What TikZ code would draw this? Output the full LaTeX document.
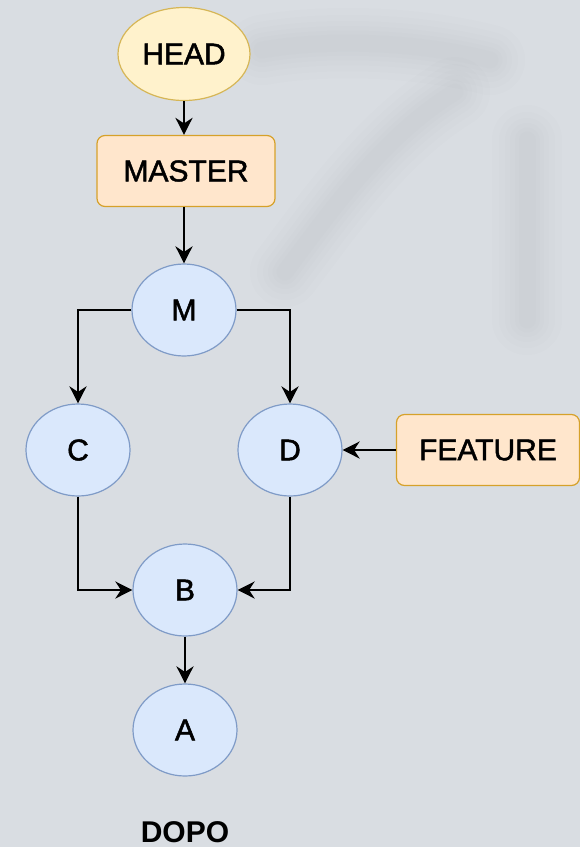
\documentclass[tikz,border=0pt]{standalone}
\usepackage{fontspec}
\setmainfont{Liberation Sans}
\newfontfamily\labelfont[FakeBold=1.6]{Liberation Sans}
\usetikzlibrary{arrows.meta,shapes.geometric}

\definecolor{bgcol}{HTML}{D9DDE2}
\definecolor{smudge}{HTML}{8E959E}
\definecolor{commitfill}{HTML}{DAE8FC}
\definecolor{commitline}{HTML}{7F9BC7}
\definecolor{headfill}{HTML}{FFF2CC}
\definecolor{headline}{HTML}{D6B656}
\definecolor{reffill}{HTML}{FFE6CC}
\definecolor{refline}{HTML}{D6A12A}

% soft blurred stroke: the same path drawn several times, widening and fading
\newcommand\softstroke[1]{%
  \foreach \w in {70,56,44,34,25,17} {
    \draw[smudge, opacity=0.022, line width=\w pt, line cap=round, line join=round] #1;
  }}

\begin{document}
\begin{tikzpicture}[x=1pt, y=-1pt,
  label font/.style={font=\labelfont\fontsize{30}{32}\selectfont},
  commit/.style={ellipse, draw=commitline, fill=commitfill, line width=1.2pt,
    minimum width=104pt, minimum height=92pt, inner sep=0pt, label font},
  headnode/.style={ellipse, draw=headline, fill=headfill, line width=1.2pt,
    minimum width=132pt, minimum height=93pt, inner sep=0pt, label font},
  refbox/.style={rectangle, rounded corners=8pt, draw=refline, fill=reffill,
    line width=1.2pt, minimum height=71pt, inner sep=0pt, label font},
  link/.style={line width=2.4pt, -{Stealth[length=17pt, width=17pt, inset=5.5pt]}}]

  % background and faint smudges
  \fill[bgcol] (0,0) rectangle (580,847);
  \useasboundingbox (0,0) rectangle (580,847);
  \softstroke{(262,50) .. controls (330,38) and (420,42) .. (490,60)}
  \softstroke{(285,272) .. controls (335,205) and (385,135) .. (455,92)}
  \softstroke{(527,140) -- (527,320)}

  % pointers
  \node[headnode] (head) at (184,54) {HEAD};
  \node[refbox, minimum width=178pt] (master) at (186,171) {MASTER};
  \node[refbox, minimum width=183pt] (feature) at (488,450) {FEATURE};

  % commits
  \node[commit] (m) at (184,310) {M};
  \node[commit] (c) at (78,450) {C};
  \node[commit] (d) at (290,450) {D};
  \node[commit] (b) at (185,590) {B};
  \node[commit] (a) at (185,730) {A};

  \node[font=\fontsize{30}{32}\selectfont\bfseries] (caption) at (185,832) {DOPO};

  % connectors
  \draw[link] (head.south) -- (head.south |- master.north);
  \draw[link] (head.south |- master.south) -- (m.north);
  \draw[link] (m.west) -| (c.north);
  \draw[link] (m.east) -| (d.north);
  \draw[link] (feature.west) -- (d.east);
  \draw[link] (c.south) |- (b.west);
  \draw[link] (d.south) |- (b.east);
  \draw[link] (b.south) -- (a.north);
\end{tikzpicture}
\end{document}
